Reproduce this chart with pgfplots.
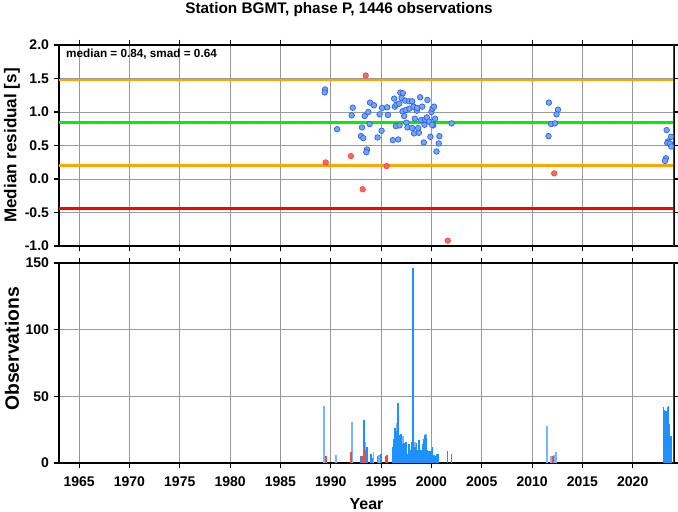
\documentclass[border=0pt]{standalone}
\usepackage{pgfplots}
\pgfplotsset{compat=1.18}
\usepackage{fontspec}
\setmainfont{Liberation Sans}

\definecolor{ptfill}{RGB}{115,165,250}
\definecolor{ptedge}{RGB}{45,95,230}
\definecolor{redfill}{RGB}{250,105,95}
\definecolor{rededge}{RGB}{235,60,50}
\definecolor{lineorange}{RGB}{255,165,0}
\definecolor{linegreen}{RGB}{0,240,0}
\definecolor{barlight}{RGB}{120,180,255}
\definecolor{bardark}{RGB}{30,144,255}
\definecolor{barred}{RGB}{250,70,70}

\pgfplotsset{
  panel/.style={
    width=461.25pt, scale only axis,
    xmin=1963, xmax=2024.1,
    xtick={1965,1970,...,2020},
    grid=major,
    major grid style={black!40, line width=0.5pt},
    tick align=outside,
    major tick length=4pt,
    tick style={black, line width=0.8pt},
    axis line style={line width=1.1pt},
    ticklabel style={font=\bfseries\fontsize{10.5}{12}\selectfont},
    /pgf/number format/assume math mode=true,
    clip=true,
  },
}

% median residuals, inside the band
\pgfplotstableread{
year res
1989.44 1.337
1989.40 1.292
1990.63 0.743
1992.18 1.064
1992.08 0.950
1993.10 0.770
1993.00 0.640
1993.23 0.610
1993.60 0.440
1993.53 0.400
1993.37 0.940
1993.73 1.000
1993.90 1.140
1994.29 1.100
1993.86 0.820
1994.85 0.965
1995.05 0.720
1994.65 0.620
1995.10 1.060
1995.60 1.070
1995.68 0.955
1996.17 0.580
1996.70 0.590
1996.30 1.200
1996.37 1.080
1996.53 1.110
1996.80 1.125
1996.90 1.290
1997.16 1.280
1997.03 1.210
1997.39 1.170
1996.47 0.790
1996.83 0.800
1997.13 1.010
1997.29 0.940
1997.46 1.030
1997.52 0.840
1997.62 0.770
1997.79 1.160
1997.82 1.050
1998.09 1.160
1998.22 1.080
1998.09 0.760
1998.28 0.680
1998.35 0.900
1998.55 1.020
1998.59 1.060
1998.68 0.760
1998.75 0.690
1998.88 1.220
1998.98 0.880
1999.08 1.080
1999.24 0.545
1999.31 0.810
1999.37 0.886
1999.54 0.920
1999.60 1.180
1999.77 0.856
1999.90 0.630
2000.00 1.000
2000.10 1.050
2000.17 0.800
2000.07 0.810
2000.26 1.080
2000.36 0.900
2000.79 0.640
2000.73 0.530
2000.50 0.410
2002.01 0.830
2011.67 1.140
2012.57 1.035
2012.43 0.965
2011.90 0.820
2012.27 0.830
2011.63 0.640
2023.37 0.730
2023.80 0.630
2023.50 0.560
2023.43 0.535
2023.70 0.530
2023.83 0.485
2023.30 0.310
2023.20 0.270
}\bluepts

% outliers
\pgfplotstableread{
year res
1993.47 1.545
1989.50 0.247
1992.00 0.342
1995.55 0.193
1993.17 -0.153
2001.62 -0.920
2012.20 0.084
}\redpts

% observation counts
\pgfplotstableread{
year n
1989.35 43
1990.50 6
1992.15 31
1993.45 16
1994.25 8
1994.80 6
2011.50 28
2011.85 5
2012.22 6
2012.37 8
1996.60 30
1997.20 20
1998.40 16
1999.50 22
}\barslight

\pgfplotstableread{
year n
1993.00 5
1993.30 32
1993.55 12
1993.65 12
1994.00 7
1994.10 4
1994.65 5
1995.00 7
1995.60 6
1996.17 12
1996.30 18
1996.40 26
1996.50 24
1996.67 45
1996.77 21
1996.87 21
1997.00 22
1997.10 14
1997.25 15
1997.40 12
1997.50 16
1997.65 7
1997.80 14
1997.90 10
1998.05 16
1998.17 146
1998.27 12
1998.37 12
1998.50 15
1998.60 10
1998.75 17
1998.90 10
1999.00 10
1999.10 14
1999.25 18
1999.35 21
1999.45 19
1999.60 10
1999.70 9
1999.85 9
2000.00 9
2000.10 12
2000.25 6
2000.40 5
2000.50 7
2000.65 7
2002.00 7
2023.04 42
2023.17 40
2023.30 39
2023.45 42
2023.57 43
2023.67 29
2023.80 20
}\barsdark

\pgfplotstableread{
year n
1989.50 5
1992.00 8
1993.10 5
1993.38 10
1995.50 5
2001.60 9
2012.10 5
}\barsred

\begin{document}
\begin{tikzpicture}
\useasboundingbox (-44.25pt,-36pt) rectangle (464.25pt,347.25pt);

% upper panel: residuals
\begin{axis}[panel,
  at={(0pt,162.75pt)}, anchor=south west,
  height=150.75pt,
  ymin=-1, ymax=2,
  ytick={-1,-0.5,...,2},
  yticklabel style={/pgf/number format/.cd, fixed, fixed zerofill, precision=1},
  xticklabels={},
  ylabel={Median residual [s]},
  ylabel style={at={(axis description cs:-0.0764,0.5)}, anchor=center,
    font=\bfseries\fontsize{12.8}{14}\selectfont},
]
\addplot[lineorange, line width=1.8pt] coordinates {(1963,1.48) (2024.1,1.48)};
\addplot[lineorange, line width=1.8pt] coordinates {(1963,0.20) (2024.1,0.20)};
\addplot[linegreen, line width=2.5pt] coordinates {(1963,0.84) (2024.1,0.84)};
\addplot[red, line width=1.8pt] coordinates {(1963,-0.44) (2024.1,-0.44)};
\addplot[only marks, mark=*, mark size=2.1pt,
  mark options={fill=ptfill, draw=ptedge, line width=0.5pt}] table[x=year, y=res] {\bluepts};
\addplot[only marks, mark=*, mark size=2.1pt,
  mark options={fill=redfill, draw=rededge, line width=0.4pt}] table[x=year, y=res] {\redpts};
\node[anchor=west, font=\bfseries\fontsize{8.8}{10}\selectfont]
  at (axis description cs:0.004,0.955) {median = 0.84, smad = 0.64};
\draw[black!75, line width=2pt] (rel axis cs:1,0) -- (rel axis cs:1,1);
\end{axis}

% lower panel: observation counts
\begin{axis}[panel,
  at={(0pt,0pt)}, anchor=south west,
  height=150pt,
  ymin=0, ymax=150,
  ytick={0,50,100,150},
  xticklabel style={/pgf/number format/1000 sep={}, yshift=-2.5pt},
  ylabel={Observations},
  ylabel style={at={(axis description cs:-0.0764,0.57)}, anchor=center,
    font=\bfseries\fontsize{14.5}{16}\selectfont},
  xlabel={Year},
  xlabel style={at={(axis description cs:0.5,-0.205)}, anchor=center,
    font=\bfseries\fontsize{12}{14}\selectfont},
]
\addplot[ycomb, barlight, line width=1.4pt, no marks] table[x=year, y=n] {\barslight};
\addplot[ycomb, bardark, line width=1.2pt, no marks] table[x=year, y=n] {\barsdark};
\addplot[ycomb, barred, line width=1.3pt, no marks] table[x=year, y=n] {\barsred};
\draw[black!75, line width=2pt] (rel axis cs:1,0) -- (rel axis cs:1,1);
\end{axis}

\node[font=\bfseries\fontsize{11.5}{13}\selectfont] at (210pt,339.75pt)
  {Station BGMT, phase P, 1446 observations};
\end{tikzpicture}
\end{document}
